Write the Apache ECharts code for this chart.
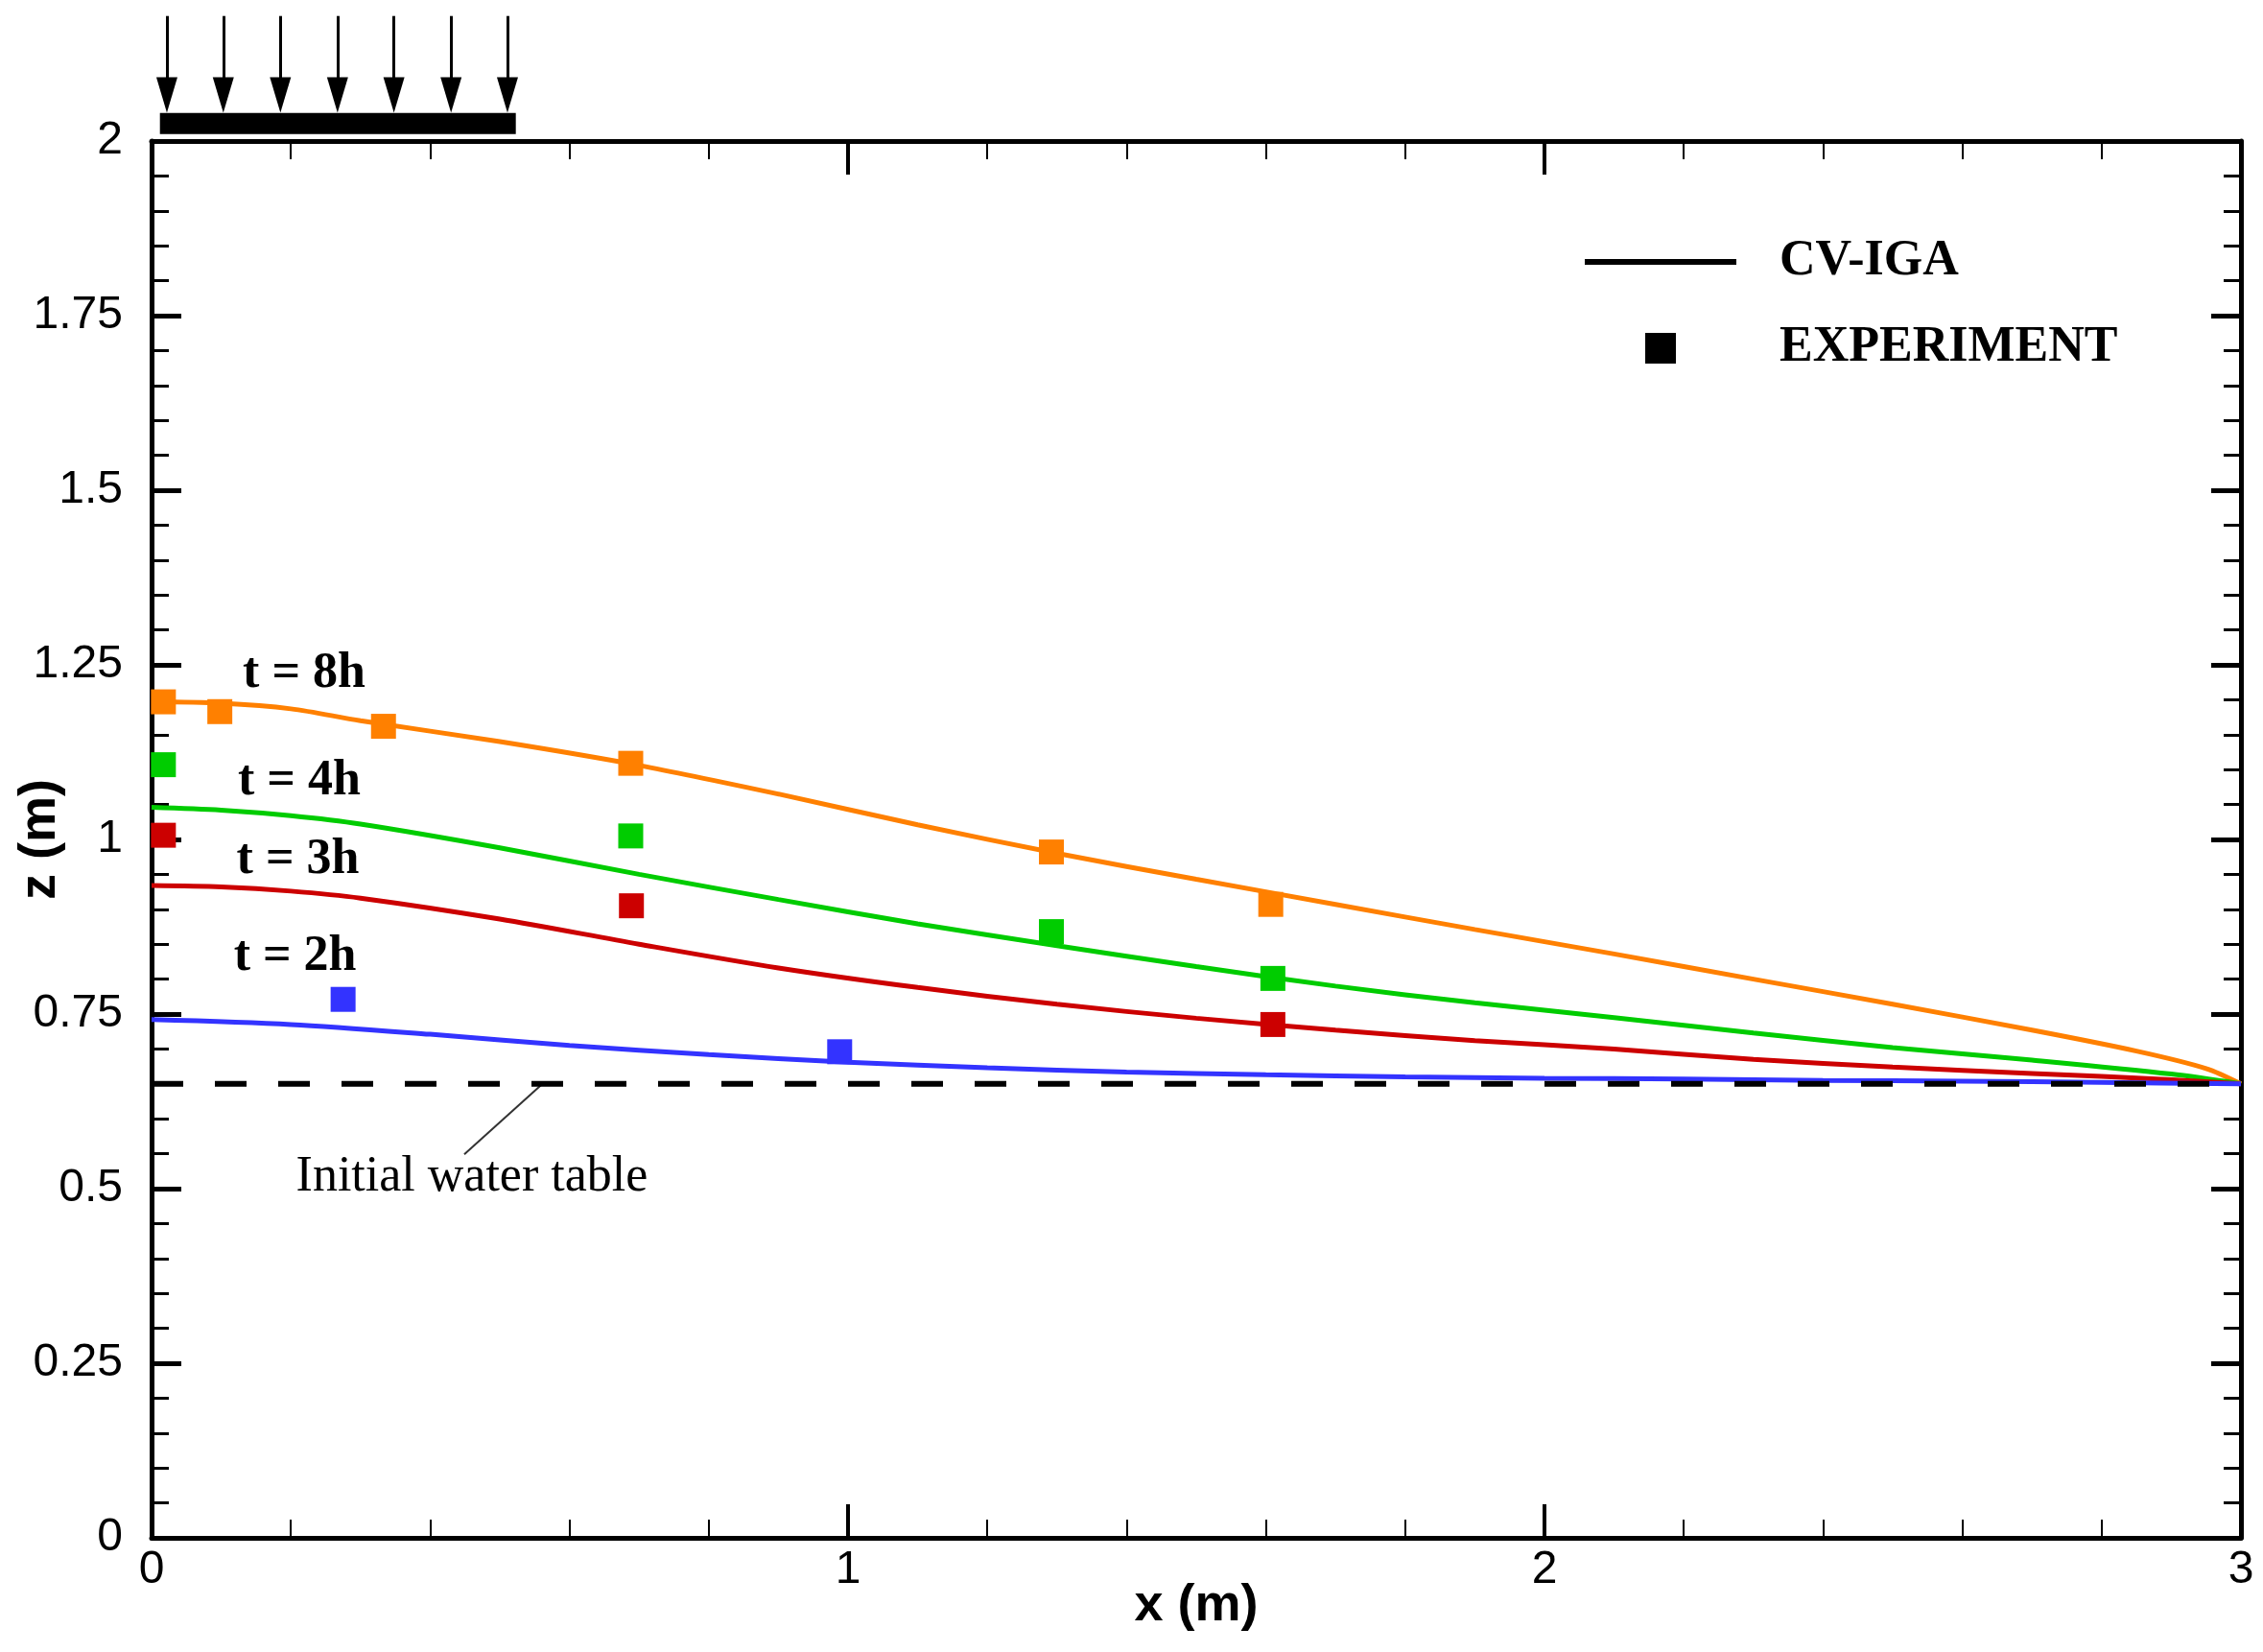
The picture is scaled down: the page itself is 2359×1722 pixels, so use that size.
<!DOCTYPE html>
<html>
<head>
<meta charset="utf-8">
<title>water table</title>
<script src="https://cdn.jsdelivr.net/npm/echarts@6/dist/echarts.min.js"></script>
<style>
    html, body { margin: 0; padding: 0; background: #fff; }
    #main { width: 2359px; height: 1722px; }
</style>
</head>
<body>
<div id="main"></div>
<script>
// CV-IGA curves (x in m, z in m)
var xOrange = [0, 0.1, 0.2, 0.3, 0.5, 0.7, 0.9, 1.1, 1.3, 1.5, 1.7, 1.9, 2.1, 2.3, 2.5, 2.7, 2.85, 2.95, 3.0];
var zOrange = [1.197, 1.195, 1.187, 1.170, 1.140, 1.106, 1.065, 1.021, 0.980, 0.943, 0.907, 0.871, 0.836, 0.800, 0.764, 0.727, 0.697, 0.672, 0.650];
var xGreen = [0, 0.1, 0.2, 0.3, 0.5, 0.7, 0.9, 1.1, 1.3, 1.5, 1.7, 1.9, 2.1, 2.3, 2.5, 2.7, 2.9, 3.0];
var zGreen = [1.046, 1.042, 1.034, 1.022, 0.988, 0.950, 0.914, 0.879, 0.848, 0.818, 0.790, 0.766, 0.745, 0.723, 0.702, 0.684, 0.664, 0.650];
var xRed = [0, 0.1, 0.2, 0.3, 0.5, 0.7, 0.9, 1.1, 1.3, 1.5, 1.7, 1.9, 2.1, 2.3, 2.5, 2.7, 2.9, 3.0];
var zRed = [0.934, 0.932, 0.926, 0.916, 0.886, 0.850, 0.816, 0.788, 0.764, 0.744, 0.727, 0.712, 0.700, 0.685, 0.674, 0.665, 0.656, 0.650];
var xBlue = [0, 0.2, 0.4, 0.6, 0.8, 1.0, 1.2, 1.4, 1.6, 1.8, 2.0, 2.2, 2.4, 2.6, 2.8, 3.0];
var zBlue = [0.742, 0.735, 0.721, 0.705, 0.692, 0.681, 0.673, 0.667, 0.663, 0.660, 0.658, 0.657, 0.655, 0.654, 0.652, 0.650];

// experiment points
var expOrangeX = [0.017, 0.098, 0.333, 0.688, 1.292, 1.607];
var expOrangeZ = [1.197, 1.183, 1.162, 1.109, 0.982, 0.907];
var expGreenX = [0.017, 0.688, 1.292, 1.610];
var expGreenZ = [1.107, 1.005, 0.868, 0.801];
var expRedX = [0.017, 0.689, 1.610];
var expRedZ = [1.006, 0.905, 0.735];
var expBlueX = [0.275, 0.988];
var expBlueZ = [0.771, 0.696];

// initial water table
var tableX = [0, 3];
var tableZ = [0.65, 0.65];

// curve labels
var timeLabels = ['t = 8h', 't = 4h', 't = 3h', 't = 2h'];
var timeLabelX = [0.131, 0.124, 0.122, 0.118];
var timeLabelZ = [1.237, 1.083, 0.970, 0.831];

// load on top
var loadX = [0.022, 0.103, 0.185, 0.267, 0.348, 0.430, 0.511];
var loadTop = 2.179;
var loadTip = 2.066;
var plateX = [0.012, 0.523];
var plateZ = 2.025;

// leader line of the water table note
var noteX = [0.449, 0.559];
var noteZ = [0.549, 0.648];
var noteText = 'Initial water table';
var noteTextX = 0.46;
var noteTextZ = 0.516;

function pairs(xs, zs) {
    var out = [];
    for (var i = 0; i < xs.length; i++) {
        out.push([xs[i], zs[i]]);
    }
    return out;
}

var sans = 'Liberation Sans';
var serif = 'Liberation Serif';

// narrow arrow head, padded to a square box so it is not stretched
var arrowHead = 'path://M0,0L0,0M7.5,37L29.5,37L18.5,0ZM37,37L37,37';

function curve(name, color, xs, zs) {
    return {
        name: name,
        type: 'line',
        data: pairs(xs, zs),
        showSymbol: false,
        symbol: 'none',
        smooth: 0.3,
        lineStyle: { color: color, width: 5 },
        z: 3
    };
}

function points(name, color, xs, zs) {
    return {
        name: name,
        type: 'scatter',
        data: pairs(xs, zs),
        symbol: 'rect',
        symbolSize: 26,
        itemStyle: { color: color, opacity: 1 },
        z: 4
    };
}

var xAxisBase = {
    type: 'value',
    min: 0,
    max: 3,
    interval: 1,
    axisLine: { show: true, onZero: false, lineStyle: { color: '#000', width: 5 } },
    axisTick: { show: true, inside: true, length: 35, lineStyle: { color: '#000', width: 4 } },
    minorTick: { show: true, splitNumber: 5, length: 19, lineStyle: { color: '#000', width: 2 } },
    splitLine: { show: false },
    minorSplitLine: { show: false }
};

var yAxisBase = {
    type: 'value',
    min: 0,
    max: 2,
    interval: 0.25,
    axisLine: { show: true, onZero: false, lineStyle: { color: '#000', width: 5 } },
    axisTick: { show: true, inside: true, length: 31, lineStyle: { color: '#000', width: 5 } },
    minorTick: { show: true, splitNumber: 5, length: 18, lineStyle: { color: '#000', width: 3 } },
    splitLine: { show: false },
    minorSplitLine: { show: false }
};

var loadArrows = [];
for (var i = 0; i < loadX.length; i++) {
    loadArrows.push({ coords: [[loadX[i], loadTop], [loadX[i], loadTip]] });
}

var labelData = [];
for (var j = 0; j < timeLabels.length; j++) {
    labelData.push([timeLabelX[j], timeLabelZ[j], timeLabels[j]]);
}

var myChart = echarts.init(document.getElementById('main'));
var option = {
    backgroundColor: '#fff',
    animation: false,
    grid: { left: 158, right: 23, top: 147, bottom: 119, outerBoundsMode: 'none', containLabel: false },
    legend: {
        left: 1647,
        top: 242,
        orient: 'vertical',
        itemWidth: 158,
        itemHeight: 32,
        itemGap: 38,
        selectedMode: false,
        textStyle: { fontFamily: serif, fontWeight: 'bold', fontSize: 52, color: '#000', padding: [0, 0, 0, 40] },
        data: [
            { name: 'CV-IGA', icon: 'path://M0,0L158,0L158,6L0,6Z' },
            { name: 'EXPERIMENT', icon: 'path://M0,0L1,0L1,1L0,1Z' }
        ]
    },
    xAxis: [
        echarts.util.merge({
            position: 'bottom',
            name: 'x (m)',
            nameLocation: 'middle',
            nameGap: 44,
            nameMoveOverlap: false,
            nameTextStyle: { fontFamily: sans, fontWeight: 'bold', fontSize: 54, color: '#000' },
            axisLabel: { show: true, margin: 10, fontFamily: sans, fontSize: 48, color: '#000' }
        }, xAxisBase, true),
        echarts.util.merge({
            position: 'top',
            axisLabel: { show: false }
        }, xAxisBase, true)
    ],
    yAxis: [
        echarts.util.merge({
            position: 'left',
            name: 'z (m)',
            nameLocation: 'middle',
            nameGap: 89,
            nameMoveOverlap: false,
            nameTextStyle: { fontFamily: sans, fontWeight: 'bold', fontSize: 54, color: '#000' },
            axisLabel: { show: true, margin: 30, fontFamily: sans, fontSize: 48, color: '#000' }
        }, yAxisBase, true),
        echarts.util.merge({
            position: 'right',
            axisLabel: { show: false }
        }, yAxisBase, true)
    ],
    series: [
        curve('t8', '#FF8000', xOrange, zOrange),
        curve('t4', '#00CC00', xGreen, zGreen),
        curve('t3', '#CC0000', xRed, zRed),
        curve('t2', '#3333FF', xBlue, zBlue),
        {
            name: 'table',
            type: 'line',
            data: pairs(tableX, tableZ),
            symbol: 'none',
            lineStyle: { color: '#000', width: 6, type: [33, 33], cap: 'butt' },
            z: 5
        },
        points('e8', '#FF8000', expOrangeX, expOrangeZ),
        points('e4', '#00CC00', expGreenX, expGreenZ),
        points('e3', '#CC0000', expRedX, expRedZ),
        points('e2', '#3333FF', expBlueX, expBlueZ),
        {
            name: 'note',
            type: 'line',
            data: pairs(noteX, noteZ),
            symbol: 'none',
            lineStyle: { color: '#333', width: 2 },
            markPoint: {
                symbol: 'circle',
                symbolSize: 0,
                label: {
                    show: true,
                    formatter: noteText,
                    fontFamily: serif,
                    fontSize: 52,
                    color: '#000'
                },
                data: [{ coord: [noteTextX, noteTextZ] }]
            }
        },
        {
            name: 'tlabels',
            type: 'scatter',
            data: labelData,
            symbolSize: 0,
            itemStyle: { opacity: 1 },
            label: {
                show: true,
                position: 'right',
                distance: 0,
                formatter: function (p) { return p.data[2]; },
                fontFamily: serif,
                fontWeight: 'bold',
                fontSize: 52,
                color: '#000'
            },
            z: 6
        },
        {
            name: 'plate',
            type: 'line',
            clip: false,
            data: [[plateX[0], plateZ], [plateX[1], plateZ]],
            symbol: 'none',
            lineStyle: { color: '#000', width: 22, cap: 'butt' }
        },
        {
            name: 'arrows',
            type: 'lines',
            coordinateSystem: 'cartesian2d',
            clip: false,
            symbol: ['none', arrowHead],
            symbolSize: 37,
            lineStyle: { color: '#000', width: 3, opacity: 1 },
            itemStyle: { color: '#000' },
            data: loadArrows
        },
        {
            name: 'CV-IGA',
            type: 'line',
            data: [],
            symbol: 'none',
            itemStyle: { color: '#000' },
            lineStyle: { color: '#000', width: 6 }
        },
        {
            name: 'EXPERIMENT',
            type: 'scatter',
            data: [],
            symbol: 'rect',
            itemStyle: { color: '#000', opacity: 1 }
        }
    ]
};
myChart.setOption(option);
</script>
</body>
</html>
